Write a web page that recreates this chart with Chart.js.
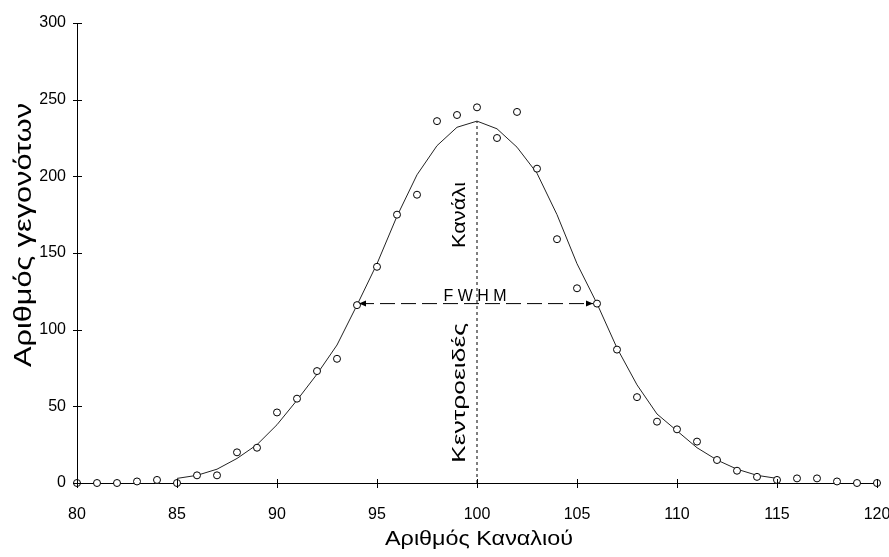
<!DOCTYPE html>
<html>
<head>
<meta charset="utf-8">
<script src="https://cdn.jsdelivr.net/npm/chart.js@4"></script>
<style>
  html, body { margin: 0; padding: 0; background: #fff; }
  #wrap { width: 889px; height: 557px; }
</style>
</head>
<body>
<div id="wrap"><canvas id="chart" width="889" height="557"></canvas></div>
<script>
// measured counts per channel
const channels = [80, 81, 82, 83, 84, 85, 86, 87, 88, 89, 90, 91, 92, 93, 94, 95, 96, 97, 98, 99, 100,
  101, 102, 103, 104, 105, 106, 107, 108, 109, 110, 111, 112, 113, 114, 115, 116, 117, 118, 119, 120]
const counts = [0, 0, 0, 1, 2, 0, 5, 5, 20, 23, 46, 55, 73, 81, 116, 141, 175, 188, 236, 240, 245,
  225, 242, 205, 159, 127, 117, 87, 56, 40, 35, 27, 15, 8, 4, 2, 3, 3, 1, 0, 0]

// fitted curve
const fitChannels = [85, 86, 87, 88, 89, 90, 91, 92, 93, 94, 95, 96, 97, 98, 99, 100,
  101, 102, 103, 104, 105, 106, 107, 108, 109, 110, 111, 112, 113, 114, 115]
const fitCounts = [3, 5, 9, 16, 25, 38, 54, 71, 90, 116, 143, 174, 201, 220, 232, 236,
  231, 219, 202, 175, 143, 117, 88, 64, 45, 34, 23, 15, 9, 5, 3]

// centroid and FWHM markers
const centroid = [100, 0, 236]        // channel, from, to
const fwhm = [94.1, 105.8, 117]       // left, right, level

const xTickValues = [80, 85, 90, 95, 100, 105, 110, 115, 120]
const yTickValues = [0, 50, 100, 150, 200, 250, 300]

const xTitle = 'Αριθμός Καναλιού'
const yTitle = 'Αριθμός γεγονότων'
const peakLabel = 'F W H M'
const chanLabel = 'Κανάλι'
const centLabel = 'Κεντροειδές'

const toXY = (xs, ys) => xs.map((x, i) => ({ x: x, y: ys[i] }))

const stretchText = (ctx, text, x, y, font, width, angle) => {
  ctx.save()
  ctx.font = font
  ctx.fillStyle = '#000'
  ctx.translate(x, y)
  ctx.rotate(angle)
  const w = ctx.measureText(text).width
  ctx.scale(width / w, 1)
  ctx.textAlign = 'center'
  ctx.textBaseline = 'middle'
  ctx.fillText(text, 0, 0)
  ctx.restore()
}

const extras = {
  id: 'extras',
  afterDatasetsDraw(chart) {
    const ctx = chart.ctx
    const xs = chart.scales.x
    const ys = chart.scales.y
    const area = chart.chartArea

    // tick marks crossing the axes
    ctx.save()
    ctx.strokeStyle = '#000'
    ctx.lineWidth = 1
    ctx.beginPath()
    xTickValues.forEach(v => {
      const px = Math.round(xs.getPixelForValue(v)) + 0.5
      ctx.moveTo(px, area.bottom - 4)
      ctx.lineTo(px, area.bottom + 5)
    })
    yTickValues.forEach(v => {
      const py = Math.round(ys.getPixelForValue(v)) + 0.5
      ctx.moveTo(area.left - 4, py)
      ctx.lineTo(area.left + 5, py)
    })
    ctx.stroke()

    // arrow heads on the FWHM line
    const ay = ys.getPixelForValue(fwhm[2])
    const l = xs.getPixelForValue(fwhm[0])
    const r = xs.getPixelForValue(fwhm[1])
    ctx.fillStyle = '#000'
    ctx.beginPath()
    ctx.moveTo(l, ay); ctx.lineTo(l + 7, ay - 3); ctx.lineTo(l + 7, ay + 3); ctx.closePath()
    ctx.moveTo(r, ay); ctx.lineTo(r - 7, ay - 3); ctx.lineTo(r - 7, ay + 3); ctx.closePath()
    ctx.fill()
    ctx.restore()

    // annotations
    const cx = xs.getPixelForValue(centroid[0])
    stretchText(ctx, peakLabel, cx - 2, ay - 7, '16px "Liberation Sans", Arial', 63, 0)
    stretchText(ctx, chanLabel, cx - 17, 215, '19px "Liberation Sans", Arial', 66, -Math.PI / 2)
    stretchText(ctx, centLabel, cx - 17, 393, '19px "Liberation Sans", Arial', 140, -Math.PI / 2)

    // axis titles
    stretchText(ctx, xTitle, (area.left + area.right) / 2 + 2, 539, '21px "Liberation Sans", Arial', 188, 0)
    stretchText(ctx, yTitle, 25, 235, '23px "Liberation Sans", Arial', 264, -Math.PI / 2)
  }
}

const tickFont = { family: '"Liberation Sans Narrow", "Liberation Sans", Arial', size: 16 }

new Chart(document.getElementById('chart'), {
  type: 'scatter',
  data: {
    datasets: [
      {
        label: 'counts',
        data: toXY(channels, counts),
        showLine: false,
        pointStyle: 'circle',
        pointRadius: 3.5,
        pointBorderWidth: 1,
        pointBorderColor: '#000',
        pointBackgroundColor: '#fff',
        clip: false,
        order: 0
      },
      {
        label: 'fit',
        data: toXY(fitChannels, fitCounts),
        showLine: true,
        borderColor: '#222',
        borderWidth: 1,
        pointRadius: 0,
        tension: 0,
        order: 1
      },
      {
        label: 'centroid',
        data: [{ x: centroid[0], y: centroid[1] }, { x: centroid[0], y: centroid[2] }],
        showLine: true,
        borderColor: '#000',
        borderWidth: 1,
        borderDash: [3, 3],
        pointRadius: 0,
        order: 2
      },
      {
        label: 'fwhm',
        data: [{ x: fwhm[0], y: fwhm[2] }, { x: fwhm[1], y: fwhm[2] }],
        showLine: true,
        borderColor: '#000',
        borderWidth: 1,
        borderDash: [15, 6],
        pointRadius: 0,
        order: 3
      }
    ]
  },
  options: {
    responsive: false,
    animation: false,
    layout: { padding: { top: 23, right: 12, left: 0, bottom: 0 } },
    plugins: {
      legend: { display: false },
      tooltip: { enabled: false }
    },
    scales: {
      x: {
        type: 'linear',
        min: 80,
        max: 120,
        afterBuildTicks: s => { s.ticks = xTickValues.map(v => ({ value: v })) },
        afterFit: s => { s.height = 74; s.paddingLeft = 0; s.paddingRight = 0 },
        grid: { display: false, drawTicks: false },
        border: { display: true, color: '#000', width: 1 },
        ticks: { color: '#000', font: tickFont, padding: 22, maxRotation: 0 }
      },
      y: {
        type: 'linear',
        min: 0,
        max: 300,
        afterBuildTicks: s => { s.ticks = yTickValues.map(v => ({ value: v })) },
        afterFit: s => { s.width = 77; s.paddingTop = 0; s.paddingBottom = 0 },
        grid: { display: false, drawTicks: false },
        border: { display: true, color: '#000', width: 1 },
        ticks: { color: '#000', font: tickFont, padding: 11 }
      }
    }
  },
  plugins: [extras]
})
</script>
</body>
</html>
